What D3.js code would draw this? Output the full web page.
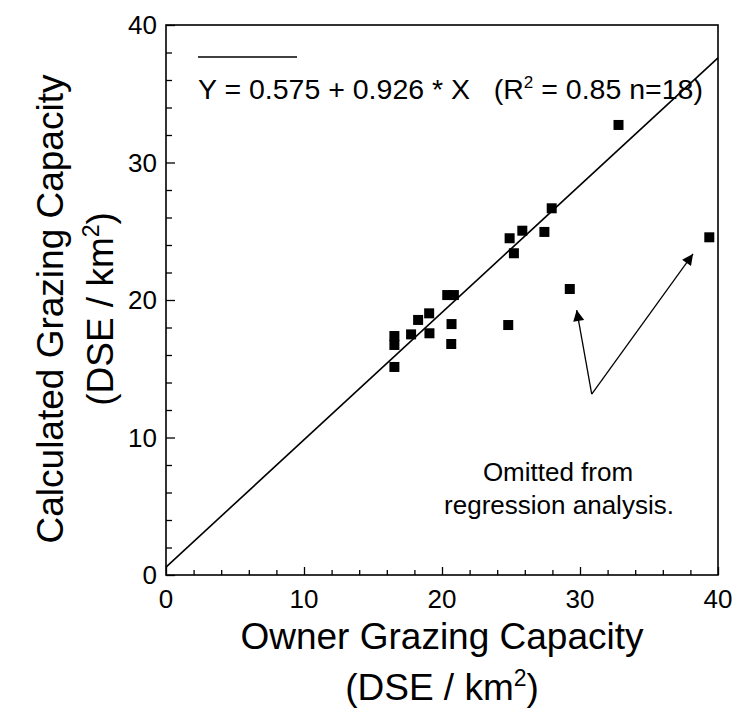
<!DOCTYPE html>
<html>
<head>
<meta charset="utf-8">
<script src="https://cdn.jsdelivr.net/npm/d3@7"></script>
<style>
  body { margin: 0; background: #fff; }
  text { font-family: "Liberation Sans", Arial, Helvetica, sans-serif; fill: #000; }
</style>
</head>
<body>
<svg id="chart" width="734" height="727"></svg>
<script>
// points used in the regression (owner vs calculated, DSE/km2)
var ownerX = [16.55, 16.55, 16.55, 17.76, 18.27, 19.07, 19.09, 20.38, 20.86, 20.69, 20.67, 24.8, 24.9, 25.21, 25.82, 27.42, 27.95, 32.79];
var calcY  = [17.38, 16.73, 15.13, 17.5, 18.55, 19.03, 17.58, 20.36, 20.36, 18.25, 16.8, 18.18, 24.49, 23.4, 25.04, 24.95, 26.67, 32.73];

// the two farms left out
var omittedX = [29.26, 39.37];
var omittedY = [20.8, 24.56];

var intercept = 0.575,
    slope = 0.926;

var majorTicks = [0, 10, 20, 30, 40];
var minorTicks = d3.range(0, 41, 2);

(function () {
    var svg = d3.select("#chart");

    var left = 166, right = 718, top = 25, bottom = 575;

    var x = d3.scaleLinear().domain([0, 40]).range([left, right]);
    var y = d3.scaleLinear().domain([0, 40]).range([bottom, top]);

    // box
    svg.append("rect")
        .attr("x", left).attr("y", top)
        .attr("width", right - left).attr("height", bottom - top)
        .attr("fill", "none").attr("stroke", "#000").attr("stroke-width", 1.6);

    // axes, ticks pointing inwards
    var xAxis = d3.axisBottom(x).tickValues(minorTicks).tickSizeInner(-5).tickSizeOuter(0).tickFormat("");
    var yAxis = d3.axisLeft(y).tickValues(minorTicks).tickSizeInner(-6).tickSizeOuter(0).tickFormat("");

    var gx = svg.append("g").attr("transform", "translate(0," + bottom + ")").call(xAxis);
    var gy = svg.append("g").attr("transform", "translate(" + left + ",0)").call(yAxis);

    [gx, gy].forEach(function (g) {
        g.select(".domain").remove();
        g.selectAll("line").attr("stroke", "#000").attr("stroke-width", 1.3);
    });

    // longer major ticks
    gx.selectAll(".tick line").filter(function (d) { return d % 10 === 0; }).attr("y2", -8);
    gy.selectAll(".tick line").filter(function (d) { return d % 10 === 0; }).attr("x2", 9);

    svg.append("g").selectAll("text.xl")
        .data(majorTicks).enter().append("text")
        .attr("x", function (d) { return x(d); })
        .attr("y", 608)
        .attr("text-anchor", "middle")
        .style("font-size", "26px")
        .text(function (d) { return d; });

    svg.append("g").selectAll("text.yl")
        .data(majorTicks).enter().append("text")
        .attr("x", 157)
        .attr("y", function (d) { return y(d) + 9; })
        .attr("text-anchor", "end")
        .style("font-size", "26px")
        .text(function (d) { return d; });

    // axis titles
    var xt = svg.append("g").attr("text-anchor", "middle");
    xt.append("text").attr("x", (left + right) / 2).attr("y", 649)
        .style("font-size", "37px").text("Owner Grazing Capacity");
    var xt2 = xt.append("text").attr("x", (left + right) / 2).attr("y", 700)
        .style("font-size", "37px");
    xt2.append("tspan").text("(DSE / km");
    xt2.append("tspan").attr("dy", -14).style("font-size", "23px").text("2");
    xt2.append("tspan").attr("dy", 14).text(")");

    var yt = svg.append("g").attr("text-anchor", "middle");
    yt.append("text").attr("transform", "translate(63," + 309 + ") rotate(-90)")
        .style("font-size", "37px").text("Calculated Grazing Capacity");
    var yt2 = yt.append("text").attr("transform", "translate(113," + 309 + ") rotate(-90)")
        .style("font-size", "37px");
    yt2.append("tspan").text("(DSE / km");
    yt2.append("tspan").attr("dy", -14).style("font-size", "23px").text("2");
    yt2.append("tspan").attr("dy", 14).text(")");

    // regression line
    svg.append("line")
        .attr("x1", x(0)).attr("y1", y(intercept))
        .attr("x2", x(40)).attr("y2", y(intercept + slope * 40))
        .attr("stroke", "#000").attr("stroke-width", 1.6);

    // legend
    svg.append("line")
        .attr("x1", 198).attr("x2", 297).attr("y1", 57).attr("y2", 57)
        .attr("stroke", "#000").attr("stroke-width", 1.6);
    var eq = svg.append("text").attr("x", 198).attr("y", 99).style("font-size", "28.5px");
    eq.append("tspan").text("Y = " + intercept + " + " + slope + " * X\u00a0\u00a0\u00a0(R");
    eq.append("tspan").attr("dy", -11).style("font-size", "17px").text("2");
    eq.append("tspan").attr("dy", 11).text(" = 0.85 n=18)");

    // points
    var pts = ownerX.map(function (d, i) { return [d, calcY[i]]; })
        .concat(omittedX.map(function (d, i) { return [d, omittedY[i]]; }));
    var s = 10;
    svg.append("g").selectAll("rect")
        .data(pts).enter().append("rect")
        .attr("x", function (d) { return x(d[0]) - s / 2; })
        .attr("y", function (d) { return y(d[1]) - s / 2; })
        .attr("width", s).attr("height", s)
        .attr("fill", "#000");

    // annotation arrows
    svg.append("defs").append("marker")
        .attr("id", "head")
        .attr("viewBox", "0 0 10 10")
        .attr("refX", 10).attr("refY", 5)
        .attr("markerWidth", 17).attr("markerHeight", 11)
        .attr("markerUnits", "userSpaceOnUse")
        .attr("orient", "auto")
        .append("path").attr("d", "M0,0 L10,5 L0,10 Z").attr("fill", "#000");

    var vertex = [30.85, 13.16];
    var tips = [[29.76, 19.27], [38.19, 23.35]];
    svg.append("g").selectAll("line")
        .data(tips).enter().append("line")
        .attr("x1", x(vertex[0])).attr("y1", y(vertex[1]))
        .attr("x2", function (d) { return x(d[0]); })
        .attr("y2", function (d) { return y(d[1]); })
        .attr("stroke", "#000").attr("stroke-width", 1.3)
        .attr("marker-end", "url(#head)");

    var note = svg.append("g").attr("text-anchor", "middle").style("font-size", "26px");
    note.append("text").attr("x", 558).attr("y", 481).text("Omitted from");
    note.append("text").attr("x", 559).attr("y", 514).text("regression analysis.");
})();
</script>
</body>
</html>
